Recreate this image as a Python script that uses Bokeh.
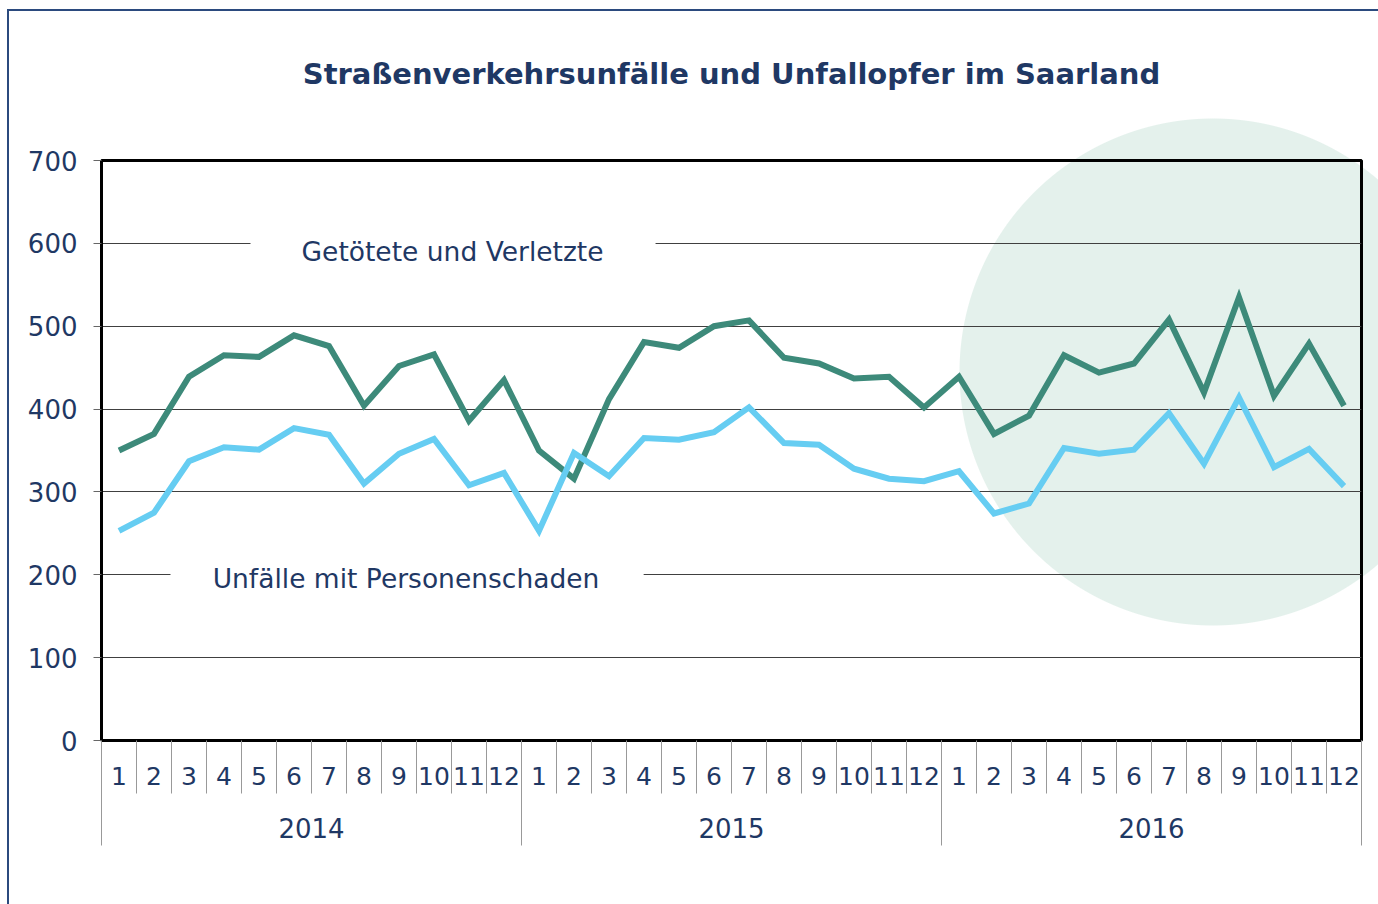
import numpy as np
from bokeh.plotting import figure
from bokeh.models import (FixedTicker, Label, BoxAnnotation, LinearAxis)
from bokeh.embed import file_html
from bokeh.resources import INLINE

years = ["2014", "2015", "2016"]
months = [str(m) for m in range(1, 13)]
getoetete = [350, 370, 439, 465, 463, 489, 476, 404, 452, 466, 386, 435,
             350, 316, 412, 481, 474, 500, 507, 462, 455, 437, 439, 402,
             439, 370, 392, 465, 444, 455, 508, 420, 535, 416, 479, 404]
unfaelle = [253, 275, 337, 354, 351, 377, 369, 310, 346, 364, 308, 323,
            253, 347, 319, 365, 363, 372, 402, 359, 357, 328, 316, 313,
            325, 274, 286, 353, 346, 351, 395, 334, 414, 330, 352, 307]
y_ticks = [0, 100, 200, 300, 400, 500, 600, 700]

NAVY = "#1f3864"
GREEN = "#3d8a7a"
BLUE = "#66cdf2"
CIRCLE = "#e4f1ec"
BORDER = "#2b4a7e"
FONT = "DejaVu Sans"

n = len(getoetete)
x = list(range(1, n + 1))

p = figure(width=1378, height=904, output_backend="svg", toolbar_location=None,
           x_range=(0.5, n + 0.5), y_range=(0, 700),
           min_border_left=101, min_border_right=17, min_border_top=160, min_border_bottom=164,
           x_axis_location=None, y_axis_location=None)
p.background_fill_color = None
p.border_fill_color = None
p.outline_line_color = "black"
p.outline_line_width = 3
# decorative background (circle and outer frame) via CSS behind the transparent canvas
p.styles = {
    "background": (
        f"linear-gradient({BORDER},{BORDER}) 7px 9px / 2px 900px no-repeat, "
        f"linear-gradient({BORDER},{BORDER}) 7px 9px / 1400px 2px no-repeat, "
        f"radial-gradient(circle 254px at 1213px 372px, {CIRCLE} 99.6%, rgba(255,255,255,0) 100%), "
        "white"
    )
}

p.xgrid.visible = False
p.ygrid.ticker = FixedTicker(ticks=y_ticks)
p.ygrid.grid_line_color = "#404040"
p.ygrid.grid_line_width = 1.2

# title
p.title.text = "Straßenverkehrsunfälle und Unfallopfer im Saarland"
p.title.align = "center"
p.title.text_font = FONT
p.title.text_font_size = "29px"
p.title.text_font_style = "bold"
p.title.text_color = NAVY
p.title.padding = {"left": 0, "right": 0, "top": 0, "bottom": 36}
p.title.standoff = 68

# y axis
yax = LinearAxis(ticker=FixedTicker(ticks=y_ticks))
yax.axis_line_color = "black"
yax.axis_line_width = 3
yax.major_tick_out = 8
yax.major_tick_in = 0
yax.major_tick_line_color = "#666666"
yax.minor_tick_line_color = None
yax.major_label_text_font = FONT
yax.major_label_text_font_size = "26px"
yax.major_label_text_color = NAVY
yax.major_label_standoff = 16
p.add_layout(yax, "left")

# x axis: month labels at centers, month boundaries as minor ticks
bounds = [i + 0.5 for i in range(0, n + 1)]
xax = LinearAxis(ticker=FixedTicker(ticks=x, minor_ticks=bounds))
xax.major_label_overrides = {i + 1: months[i % 12] for i in range(n)}
xax.axis_line_color = "black"
xax.axis_line_width = 3
xax.major_tick_out = 0
xax.major_tick_in = 0
xax.minor_tick_out = 53
xax.minor_tick_in = 0
xax.minor_tick_line_color = "#999999"
xax.minor_tick_line_width = 1
xax.major_label_text_font = FONT
xax.major_label_text_font_size = "25px"
xax.major_label_text_color = NAVY
xax.major_label_standoff = -27
p.add_layout(xax, "below")

# year axis: labels at year centres, year boundaries as long minor ticks
year_centers = [6.5 + 12 * k for k in range(len(years))]
year_bounds = [0.5 + 12 * k for k in range(len(years) + 1)]
yrax = LinearAxis(ticker=FixedTicker(ticks=year_centers, minor_ticks=year_bounds))
yrax.major_label_overrides = {c: yr for c, yr in zip(year_centers, years)}
yrax.axis_line_color = None
yrax.major_tick_line_color = None
yrax.minor_tick_in = 47
yrax.minor_tick_out = 58
yrax.minor_tick_line_color = "#999999"
yrax.minor_tick_line_width = 1
yrax.major_label_text_font = FONT
yrax.major_label_text_font_size = "26px"
yrax.major_label_text_color = NAVY
yrax.major_label_standoff = -28
p.add_layout(yrax, "below")

# lines
p.line(x, getoetete, line_color=GREEN, line_width=6, line_join="miter")
p.line(x, unfaelle, line_color=BLUE, line_width=6, line_join="miter")

# gaps in gridlines for labels
p.add_layout(BoxAnnotation(left=4.757, right=16.33, bottom=597, top=603,
                           fill_color="white", fill_alpha=1, line_color=None))
p.add_layout(BoxAnnotation(left=2.471, right=15.99, bottom=197, top=203,
                           fill_color="white", fill_alpha=1, line_color=None))
p.add_layout(Label(x=10.53, y=590, text="Getötete und Verletzte", text_align="center",
                   text_baseline="middle", text_font=FONT, text_font_size="26.5px", text_color=NAVY))
p.add_layout(Label(x=9.2, y=195.5, text="Unfälle mit Personenschaden", text_align="center",
                   text_baseline="middle", text_font=FONT, text_font_size="26.5px", text_color=NAVY))

open("out.html", "w").write(file_html(p, INLINE))
